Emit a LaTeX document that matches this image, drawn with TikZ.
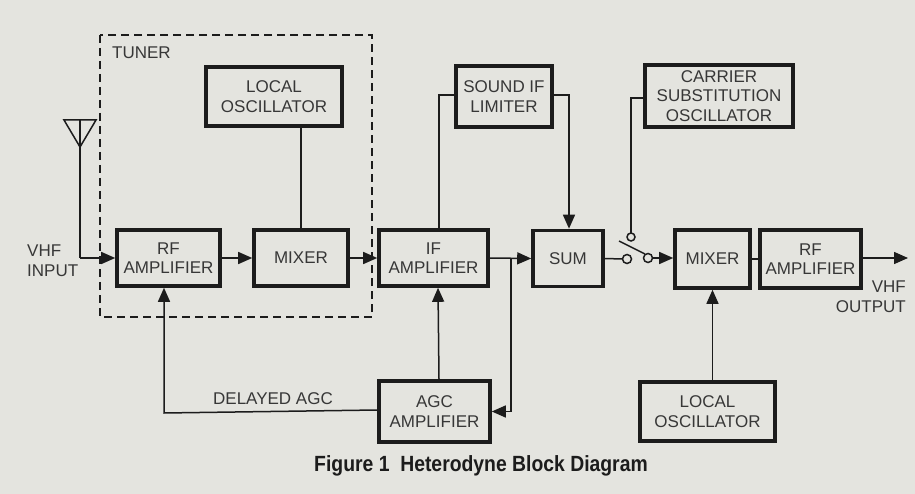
\documentclass[tikz,border=0pt]{standalone}
\usepackage{fontspec}
\setmainfont{Liberation Sans}
\newfontfamily\capfont[FakeStretch=0.88]{Liberation Sans}
\usetikzlibrary{arrows.meta}
\definecolor{paper}{RGB}{228,228,223}
\definecolor{ink}{RGB}{28,28,28}
\definecolor{txt}{RGB}{55,55,55}
\tikzset{
  blk/.style={draw=ink, line width=3.6pt, fill=none, align=center, text=txt,
    font=\fontsize{17}{19.5}\selectfont, inner sep=0pt},
  wire/.style={draw=ink, line width=1.5pt},
  arr/.style={wire, -{Triangle[length=14pt,width=12pt]}},
  lbl/.style={text=txt, font=\fontsize{17}{20}\selectfont, inner sep=0pt},
  sw/.style={draw=ink, line width=1.5pt, fill=paper},
}
\begin{document}
\begin{tikzpicture}[x=1pt,y=-1pt]
\useasboundingbox (0,0) rectangle (915,494);
\fill[paper] (0,0) rectangle (915,494);

% tuner frame
\draw[ink, line width=1.4pt, dash pattern=on 8pt off 5pt] (100,35) rectangle (372,317);
\node[lbl, anchor=west] (tuner) at (112,53) {TUNER};

% blocks
\node[blk, minimum width=136pt, minimum height=59pt] (lo1) at (274,96.5) {LOCAL\\OSCILLATOR};
\node[blk, minimum width=103pt, minimum height=56pt] (rf1) at (168.5,258) {RF\\AMPLIFIER};
\node[blk, minimum width=94pt, minimum height=56pt] (mix1) at (301,258) {MIXER};
\node[blk, minimum width=109pt, minimum height=56pt] (ifa) at (433.5,258) {IF\\AMPLIFIER};
\node[blk, minimum width=96pt, minimum height=61pt] (sil) at (504,96.5) {SOUND IF\\LIMITER};
\node[blk, minimum width=70pt, minimum height=56pt] (sum) at (568,258.5) {SUM};
\node[blk, minimum width=148pt, minimum height=62pt] (cso) at (719,96) {CARRIER\\SUBSTITUTION\\OSCILLATOR};
\node[blk, minimum width=75pt, minimum height=58pt] (mix2) at (712.5,259) {MIXER};
\node[blk, minimum width=101pt, minimum height=58pt] (rf2) at (810.5,259) {RF\\AMPLIFIER};
\node[blk, minimum width=111pt, minimum height=61pt] (agc) at (434.5,411.5) {AGC\\AMPLIFIER};
\node[blk, minimum width=135pt, minimum height=59pt] (lo2) at (707.5,411.5) {LOCAL\\OSCILLATOR};

% antenna
\coordinate (antL) at (64,120);
\coordinate (antR) at (96,120);
\coordinate (antA) at (80,147);
\coordinate (antC) at (80,120);
\coordinate (antB) at (80,258);
\draw[wire, line join=miter] (antL) -- (antR) -- (antA) -- cycle;
\draw[wire] (antC) -- (antB);
\draw[arr] (antB) -- (rf1.west);
\node[lbl, align=left, anchor=west] (vin) at (27,261) {VHF\\INPUT};

% main chain
\draw[arr] (rf1.east) -- (mix1.west);
\draw[wire] (lo1.south -| mix1.north) -- (mix1.north);
\draw[arr] (mix1.east) -- (ifa.west);

% sound IF path
\draw[wire] ([xshift=5.5pt]ifa.north) |- ([yshift=1.5pt]sil.west);
\draw[arr] ([yshift=1.5pt]sil.east) -| ([xshift=1pt]sum.north);

% IF to sum, branch to AGC
\coordinate (br) at (511,258);
\draw[arr] (ifa.east) -- (sum.west);
\draw[arr] (br) |- (agc.east);
\draw[arr] ([xshift=4.5pt]agc.north) -- ([xshift=4.5pt]ifa.south);
\coordinate (dl) at (164,413);
\draw[arr] ([yshift=1.5pt]agc.west) -- (dl) -- (dl |- rf1.south);
\node[lbl, anchor=base] (dagc) at (273,404) {DELAYED AGC};

% switch
\coordinate (c1) at (627,259);
\coordinate (c2) at (648,258);
\coordinate (c3) at (631,237);
\coordinate (cs) at (631,98);
\draw[wire] (sum.east) -- ([xshift=-4.5pt]c1);
\draw[wire] (cso.west |- cs) -- (cs) -- ([yshift=-4pt]c3);
\draw[wire] (619,241) -- (645,254);
\draw[sw] (c1) circle (4.5pt);
\draw[sw] (c3) circle (4pt);
\draw[sw] (c2) circle (4.5pt);
\draw[arr] ([xshift=4.5pt]c2) -- (mix2.west |- c2);

% output side
\draw[wire] (mix2.east) -- (rf2.west);
\coordinate (out) at (908,258);
\draw[arr] (rf2.east |- out) -- (out);
\node[lbl, align=right, anchor=east] (vout) at (906,297) {VHF\\OUTPUT};
\draw[arr] (lo2.north -| mix2.south) -- (mix2.south);

% caption
\node[text=ink, font=\capfont\bfseries\fontsize{22}{24}\selectfont, inner sep=0pt] (cap) at (481,466) {Figure 1\ \ Heterodyne Block Diagram};
\end{tikzpicture}
\end{document}
